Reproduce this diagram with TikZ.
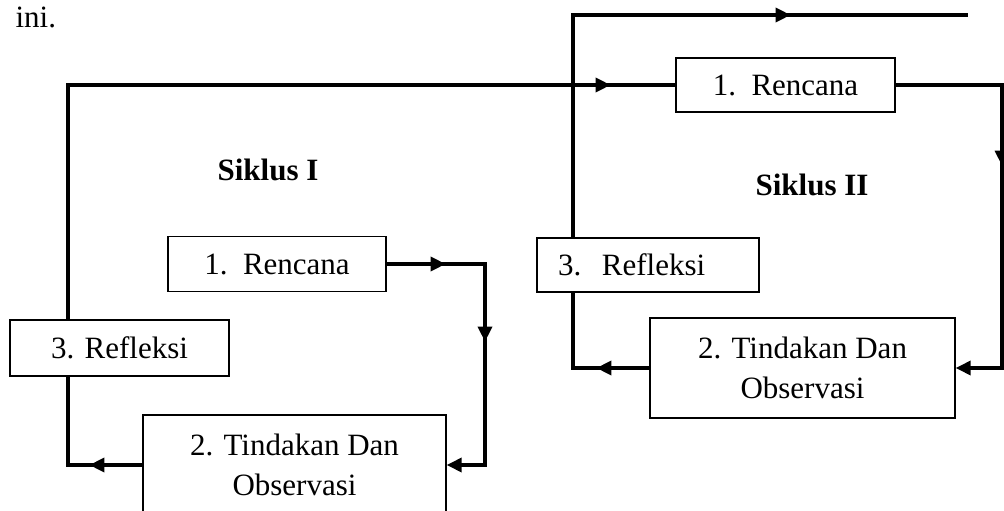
\documentclass[tikz,border=0pt]{standalone}
\usepackage{fontspec}
\setmainfont{Liberation Serif}
\usetikzlibrary{arrows.meta, decorations.markings}

\tikzset{
  >={Triangle[length=15pt,width=14pt]},
  txt/.style={font=\fontsize{31}{40}\selectfont},
  box/.style={draw, line width=1.3pt, inner sep=0pt, align=center, txt},
  flow/.style={line width=3.3pt, line join=miter},
  arrowat/.style={postaction={decorate, decoration={markings, mark=at position #1 with {\arrow{>}}}}},
}

\begin{document}
\begin{tikzpicture}[x=1pt, y=-1pt]
\useasboundingbox (0,0) rectangle (1004,511);

% labels
\node[txt, anchor=base west] (ini) at (12,28) {ini.};
\node[txt, font=\fontsize{31}{40}\selectfont\bfseries, anchor=base] (sik1) at (268,180) {Siklus I};
\node[txt, font=\fontsize{31}{40}\selectfont\bfseries, anchor=base] (sik2) at (812,195) {Siklus II};

% siklus I
\node[box, minimum width=218pt, minimum height=55pt] (ren1) at (277,264) {1.\ \ Rencana};
\node[box, minimum width=219pt, minimum height=56pt] (ref1) at (119.5,348) {3. Refleksi};
\node[box, minimum width=303pt, minimum height=100pt] (tin1) at (294.5,465) {2. Tindakan Dan\\Observasi};

% siklus II
\node[box, minimum width=219pt, minimum height=54pt] (ren2) at (785.5,85) {1.\ \ Rencana};
\node[box, align=left, text width=180pt, inner xsep=21pt, minimum height=54pt] (ref2) at (648,265) {3.\ \ Refleksi};
\node[box, minimum width=305pt, minimum height=100pt] (tin2) at (802.5,368) {2. Tindakan Dan\\Observasi};

% corners
\coordinate (c1a) at (485,264);
\coordinate (c1b) at (c1a |- tin1.east);
\coordinate (c1c) at (68,465);
\coordinate (c1d) at (68,85);
\coordinate (c2a) at (1002,85);
\coordinate (c2b) at (c2a |- tin2.east);
\coordinate (c2c) at (573,368);
\coordinate (c2d) at (573,15);
\coordinate (c2e) at (968,15);

% alur siklus I
\draw[flow, ->, arrowat=59pt, arrowat=176pt] (ren1.east) -- (c1a) -- (c1b) -- (tin1.east);
\draw[flow, arrowat=53pt] (tin1.west) -- (c1c) -- (c1c |- ref1.south);
\draw[flow, arrowat=777pt] (c1c |- ref1.north) -- (c1d) -- (ren2.west);

% alur siklus II
\draw[flow, ->, arrowat=187pt] (ren2.east) -- (c2a) -- (c2b) -- (tin2.east);
\draw[flow, arrowat=53pt] (tin2.west) -- (c2c) -- (c2c |- ref2.south);
\draw[flow, arrowat=440pt] (c2c |- ref2.north) -- (c2d) -- (c2e);
\end{tikzpicture}
\end{document}
